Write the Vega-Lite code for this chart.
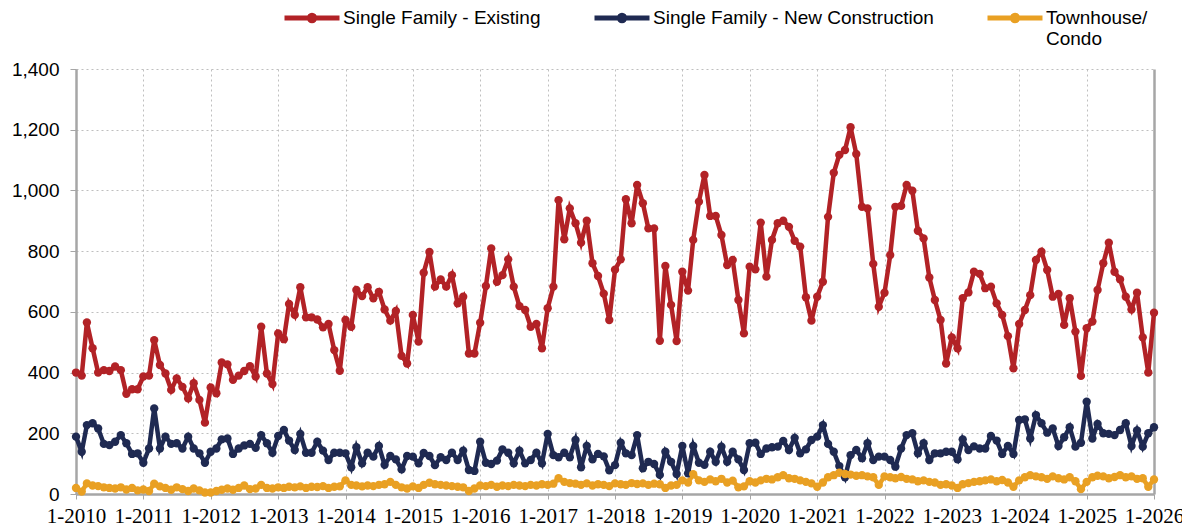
{
  "$schema": "https://vega.github.io/schema/vega-lite/v6.json",
  "width": 1078,
  "height": 425,
  "autosize": "none",
  "padding": {"left": 76, "top": 69, "right": 28, "bottom": 33},
  "background": "white",
  "config": {"view": {"stroke": null}, "font": "Liberation Sans"},
  "data": {"values": [
    {"month":"2010-01-01","existing":400,"newConstruction":189,"townhouse":20},
    {"month":"2010-02-01","existing":390,"newConstruction":139,"townhouse":8},
    {"month":"2010-03-01","existing":565,"newConstruction":227,"townhouse":35},
    {"month":"2010-04-01","existing":480,"newConstruction":233,"townhouse":28},
    {"month":"2010-05-01","existing":400,"newConstruction":216,"townhouse":26},
    {"month":"2010-06-01","existing":408,"newConstruction":165,"townhouse":22},
    {"month":"2010-07-01","existing":405,"newConstruction":161,"townhouse":20},
    {"month":"2010-08-01","existing":420,"newConstruction":172,"townhouse":18},
    {"month":"2010-09-01","existing":408,"newConstruction":194,"townhouse":22},
    {"month":"2010-10-01","existing":330,"newConstruction":167,"townhouse":15},
    {"month":"2010-11-01","existing":345,"newConstruction":132,"townhouse":20},
    {"month":"2010-12-01","existing":345,"newConstruction":134,"townhouse":12},
    {"month":"2011-01-01","existing":387,"newConstruction":103,"townhouse":15},
    {"month":"2011-02-01","existing":390,"newConstruction":150,"townhouse":10},
    {"month":"2011-03-01","existing":507,"newConstruction":282,"townhouse":34},
    {"month":"2011-04-01","existing":425,"newConstruction":150,"townhouse":25},
    {"month":"2011-05-01","existing":397,"newConstruction":189,"townhouse":20},
    {"month":"2011-06-01","existing":343,"newConstruction":165,"townhouse":14},
    {"month":"2011-07-01","existing":381,"newConstruction":167,"townhouse":22},
    {"month":"2011-08-01","existing":353,"newConstruction":150,"townhouse":16},
    {"month":"2011-09-01","existing":315,"newConstruction":189,"townhouse":10},
    {"month":"2011-10-01","existing":365,"newConstruction":150,"townhouse":18},
    {"month":"2011-11-01","existing":310,"newConstruction":134,"townhouse":12},
    {"month":"2011-12-01","existing":235,"newConstruction":103,"townhouse":5},
    {"month":"2012-01-01","existing":351,"newConstruction":139,"townhouse":5},
    {"month":"2012-02-01","existing":332,"newConstruction":150,"townhouse":10},
    {"month":"2012-03-01","existing":433,"newConstruction":180,"townhouse":14},
    {"month":"2012-04-01","existing":427,"newConstruction":183,"townhouse":18},
    {"month":"2012-05-01","existing":376,"newConstruction":132,"townhouse":14},
    {"month":"2012-06-01","existing":390,"newConstruction":150,"townhouse":20},
    {"month":"2012-07-01","existing":405,"newConstruction":160,"townhouse":28},
    {"month":"2012-08-01","existing":421,"newConstruction":165,"townhouse":16},
    {"month":"2012-09-01","existing":387,"newConstruction":152,"townhouse":18},
    {"month":"2012-10-01","existing":551,"newConstruction":194,"townhouse":30},
    {"month":"2012-11-01","existing":397,"newConstruction":167,"townhouse":20},
    {"month":"2012-12-01","existing":362,"newConstruction":136,"townhouse":18},
    {"month":"2013-01-01","existing":529,"newConstruction":191,"townhouse":22},
    {"month":"2013-02-01","existing":510,"newConstruction":211,"townhouse":20},
    {"month":"2013-03-01","existing":626,"newConstruction":176,"townhouse":24},
    {"month":"2013-04-01","existing":590,"newConstruction":145,"townhouse":22},
    {"month":"2013-05-01","existing":681,"newConstruction":198,"townhouse":25},
    {"month":"2013-06-01","existing":582,"newConstruction":136,"townhouse":20},
    {"month":"2013-07-01","existing":582,"newConstruction":136,"townhouse":24},
    {"month":"2013-08-01","existing":575,"newConstruction":172,"townhouse":23},
    {"month":"2013-09-01","existing":549,"newConstruction":143,"townhouse":26},
    {"month":"2013-10-01","existing":560,"newConstruction":112,"townhouse":20},
    {"month":"2013-11-01","existing":474,"newConstruction":136,"townhouse":24},
    {"month":"2013-12-01","existing":406,"newConstruction":136,"townhouse":25},
    {"month":"2014-01-01","existing":573,"newConstruction":134,"townhouse":45},
    {"month":"2014-02-01","existing":551,"newConstruction":88,"townhouse":30},
    {"month":"2014-03-01","existing":672,"newConstruction":154,"townhouse":28},
    {"month":"2014-04-01","existing":652,"newConstruction":101,"townhouse":25},
    {"month":"2014-05-01","existing":681,"newConstruction":136,"townhouse":28},
    {"month":"2014-06-01","existing":645,"newConstruction":123,"townhouse":26},
    {"month":"2014-07-01","existing":666,"newConstruction":158,"townhouse":30},
    {"month":"2014-08-01","existing":608,"newConstruction":96,"townhouse":32},
    {"month":"2014-09-01","existing":571,"newConstruction":125,"townhouse":40},
    {"month":"2014-10-01","existing":603,"newConstruction":114,"townhouse":30},
    {"month":"2014-11-01","existing":455,"newConstruction":81,"townhouse":22},
    {"month":"2014-12-01","existing":430,"newConstruction":125,"townhouse":18},
    {"month":"2015-01-01","existing":590,"newConstruction":123,"townhouse":25},
    {"month":"2015-02-01","existing":502,"newConstruction":101,"townhouse":20},
    {"month":"2015-03-01","existing":729,"newConstruction":135,"townhouse":30},
    {"month":"2015-04-01","existing":797,"newConstruction":125,"townhouse":37},
    {"month":"2015-05-01","existing":683,"newConstruction":95,"townhouse":32},
    {"month":"2015-06-01","existing":707,"newConstruction":121,"townhouse":30},
    {"month":"2015-07-01","existing":683,"newConstruction":112,"townhouse":28},
    {"month":"2015-08-01","existing":721,"newConstruction":136,"townhouse":26},
    {"month":"2015-09-01","existing":628,"newConstruction":112,"townhouse":24},
    {"month":"2015-10-01","existing":650,"newConstruction":143,"townhouse":22},
    {"month":"2015-11-01","existing":463,"newConstruction":79,"townhouse":10},
    {"month":"2015-12-01","existing":463,"newConstruction":76,"townhouse":18},
    {"month":"2016-01-01","existing":564,"newConstruction":172,"townhouse":28},
    {"month":"2016-02-01","existing":685,"newConstruction":103,"townhouse":26},
    {"month":"2016-03-01","existing":809,"newConstruction":99,"townhouse":30},
    {"month":"2016-04-01","existing":699,"newConstruction":110,"townhouse":24},
    {"month":"2016-05-01","existing":721,"newConstruction":147,"townhouse":28},
    {"month":"2016-06-01","existing":773,"newConstruction":136,"townhouse":26},
    {"month":"2016-07-01","existing":683,"newConstruction":101,"townhouse":30},
    {"month":"2016-08-01","existing":619,"newConstruction":143,"townhouse":28},
    {"month":"2016-09-01","existing":606,"newConstruction":101,"townhouse":26},
    {"month":"2016-10-01","existing":551,"newConstruction":112,"townhouse":30},
    {"month":"2016-11-01","existing":560,"newConstruction":136,"townhouse":28},
    {"month":"2016-12-01","existing":480,"newConstruction":101,"townhouse":32},
    {"month":"2017-01-01","existing":612,"newConstruction":198,"townhouse":30},
    {"month":"2017-02-01","existing":683,"newConstruction":128,"townhouse":34},
    {"month":"2017-03-01","existing":968,"newConstruction":121,"townhouse":52},
    {"month":"2017-04-01","existing":839,"newConstruction":136,"townhouse":40},
    {"month":"2017-05-01","existing":941,"newConstruction":121,"townhouse":36},
    {"month":"2017-06-01","existing":892,"newConstruction":178,"townhouse":34},
    {"month":"2017-07-01","existing":828,"newConstruction":88,"townhouse":30},
    {"month":"2017-08-01","existing":900,"newConstruction":158,"townhouse":35},
    {"month":"2017-09-01","existing":760,"newConstruction":114,"townhouse":28},
    {"month":"2017-10-01","existing":718,"newConstruction":132,"townhouse":32},
    {"month":"2017-11-01","existing":660,"newConstruction":124,"townhouse":30},
    {"month":"2017-12-01","existing":573,"newConstruction":78,"townhouse":26},
    {"month":"2018-01-01","existing":739,"newConstruction":95,"townhouse":35},
    {"month":"2018-02-01","existing":773,"newConstruction":169,"townhouse":32},
    {"month":"2018-03-01","existing":971,"newConstruction":134,"townhouse":30},
    {"month":"2018-04-01","existing":892,"newConstruction":128,"townhouse":36},
    {"month":"2018-05-01","existing":1018,"newConstruction":194,"townhouse":33},
    {"month":"2018-06-01","existing":958,"newConstruction":85,"townhouse":35},
    {"month":"2018-07-01","existing":875,"newConstruction":106,"townhouse":30},
    {"month":"2018-08-01","existing":875,"newConstruction":99,"townhouse":34},
    {"month":"2018-09-01","existing":505,"newConstruction":63,"townhouse":32},
    {"month":"2018-10-01","existing":751,"newConstruction":139,"townhouse":20},
    {"month":"2018-11-01","existing":623,"newConstruction":106,"townhouse":28},
    {"month":"2018-12-01","existing":504,"newConstruction":66,"townhouse":30},
    {"month":"2019-01-01","existing":732,"newConstruction":158,"townhouse":45},
    {"month":"2019-02-01","existing":670,"newConstruction":68,"townhouse":38},
    {"month":"2019-03-01","existing":837,"newConstruction":158,"townhouse":65},
    {"month":"2019-04-01","existing":963,"newConstruction":103,"townhouse":45},
    {"month":"2019-05-01","existing":1051,"newConstruction":96,"townhouse":40},
    {"month":"2019-06-01","existing":916,"newConstruction":139,"townhouse":48},
    {"month":"2019-07-01","existing":916,"newConstruction":106,"townhouse":42},
    {"month":"2019-08-01","existing":853,"newConstruction":156,"townhouse":50},
    {"month":"2019-09-01","existing":754,"newConstruction":106,"townhouse":38},
    {"month":"2019-10-01","existing":771,"newConstruction":139,"townhouse":44},
    {"month":"2019-11-01","existing":639,"newConstruction":114,"townhouse":22},
    {"month":"2019-12-01","existing":529,"newConstruction":79,"townhouse":25},
    {"month":"2020-01-01","existing":749,"newConstruction":167,"townhouse":42},
    {"month":"2020-02-01","existing":740,"newConstruction":169,"townhouse":38},
    {"month":"2020-03-01","existing":894,"newConstruction":132,"townhouse":45},
    {"month":"2020-04-01","existing":716,"newConstruction":150,"townhouse":50},
    {"month":"2020-05-01","existing":837,"newConstruction":154,"townhouse":48},
    {"month":"2020-06-01","existing":892,"newConstruction":156,"townhouse":55},
    {"month":"2020-07-01","existing":900,"newConstruction":175,"townhouse":62},
    {"month":"2020-08-01","existing":880,"newConstruction":145,"townhouse":52},
    {"month":"2020-09-01","existing":834,"newConstruction":185,"townhouse":50},
    {"month":"2020-10-01","existing":815,"newConstruction":134,"townhouse":45},
    {"month":"2020-11-01","existing":648,"newConstruction":147,"townhouse":40},
    {"month":"2020-12-01","existing":571,"newConstruction":178,"townhouse":35},
    {"month":"2021-01-01","existing":650,"newConstruction":189,"townhouse":24},
    {"month":"2021-02-01","existing":699,"newConstruction":227,"townhouse":38},
    {"month":"2021-03-01","existing":913,"newConstruction":165,"townhouse":55},
    {"month":"2021-04-01","existing":1058,"newConstruction":139,"townhouse":62},
    {"month":"2021-05-01","existing":1117,"newConstruction":92,"townhouse":70},
    {"month":"2021-06-01","existing":1133,"newConstruction":55,"townhouse":66},
    {"month":"2021-07-01","existing":1208,"newConstruction":128,"townhouse":64},
    {"month":"2021-08-01","existing":1120,"newConstruction":145,"townhouse":60},
    {"month":"2021-09-01","existing":946,"newConstruction":118,"townhouse":62},
    {"month":"2021-10-01","existing":941,"newConstruction":167,"townhouse":58},
    {"month":"2021-11-01","existing":758,"newConstruction":112,"townhouse":55},
    {"month":"2021-12-01","existing":617,"newConstruction":123,"townhouse":30},
    {"month":"2022-01-01","existing":663,"newConstruction":123,"townhouse":58},
    {"month":"2022-02-01","existing":787,"newConstruction":112,"townhouse":55},
    {"month":"2022-03-01","existing":946,"newConstruction":90,"townhouse":52},
    {"month":"2022-04-01","existing":949,"newConstruction":150,"townhouse":56},
    {"month":"2022-05-01","existing":1018,"newConstruction":194,"townhouse":50},
    {"month":"2022-06-01","existing":999,"newConstruction":200,"townhouse":48},
    {"month":"2022-07-01","existing":867,"newConstruction":134,"townhouse":42},
    {"month":"2022-08-01","existing":842,"newConstruction":167,"townhouse":45},
    {"month":"2022-09-01","existing":713,"newConstruction":112,"townhouse":40},
    {"month":"2022-10-01","existing":639,"newConstruction":134,"townhouse":38},
    {"month":"2022-11-01","existing":573,"newConstruction":134,"townhouse":30},
    {"month":"2022-12-01","existing":430,"newConstruction":139,"townhouse":32},
    {"month":"2023-01-01","existing":516,"newConstruction":139,"townhouse":28},
    {"month":"2023-02-01","existing":480,"newConstruction":114,"townhouse":20},
    {"month":"2023-03-01","existing":645,"newConstruction":180,"townhouse":32},
    {"month":"2023-04-01","existing":664,"newConstruction":145,"townhouse":36},
    {"month":"2023-05-01","existing":732,"newConstruction":157,"townhouse":40},
    {"month":"2023-06-01","existing":725,"newConstruction":150,"townhouse":42},
    {"month":"2023-07-01","existing":678,"newConstruction":150,"townhouse":45},
    {"month":"2023-08-01","existing":683,"newConstruction":191,"townhouse":48},
    {"month":"2023-09-01","existing":628,"newConstruction":176,"townhouse":42},
    {"month":"2023-10-01","existing":590,"newConstruction":132,"townhouse":46},
    {"month":"2023-11-01","existing":520,"newConstruction":158,"townhouse":38},
    {"month":"2023-12-01","existing":414,"newConstruction":132,"townhouse":24},
    {"month":"2024-01-01","existing":560,"newConstruction":244,"townhouse":45},
    {"month":"2024-02-01","existing":606,"newConstruction":246,"townhouse":55},
    {"month":"2024-03-01","existing":655,"newConstruction":183,"townhouse":62},
    {"month":"2024-04-01","existing":771,"newConstruction":260,"townhouse":58},
    {"month":"2024-05-01","existing":798,"newConstruction":233,"townhouse":55},
    {"month":"2024-06-01","existing":738,"newConstruction":202,"townhouse":50},
    {"month":"2024-07-01","existing":650,"newConstruction":216,"townhouse":58},
    {"month":"2024-08-01","existing":659,"newConstruction":158,"townhouse":52},
    {"month":"2024-09-01","existing":557,"newConstruction":187,"townhouse":48},
    {"month":"2024-10-01","existing":645,"newConstruction":220,"townhouse":55},
    {"month":"2024-11-01","existing":535,"newConstruction":156,"townhouse":42},
    {"month":"2024-12-01","existing":389,"newConstruction":169,"townhouse":16},
    {"month":"2025-01-01","existing":546,"newConstruction":304,"townhouse":40},
    {"month":"2025-02-01","existing":568,"newConstruction":183,"townhouse":55},
    {"month":"2025-03-01","existing":672,"newConstruction":231,"townhouse":60},
    {"month":"2025-04-01","existing":760,"newConstruction":200,"townhouse":58},
    {"month":"2025-05-01","existing":828,"newConstruction":198,"townhouse":52},
    {"month":"2025-06-01","existing":732,"newConstruction":194,"townhouse":56},
    {"month":"2025-07-01","existing":707,"newConstruction":211,"townhouse":62},
    {"month":"2025-08-01","existing":650,"newConstruction":233,"townhouse":55},
    {"month":"2025-09-01","existing":608,"newConstruction":158,"townhouse":58},
    {"month":"2025-10-01","existing":663,"newConstruction":209,"townhouse":50},
    {"month":"2025-11-01","existing":516,"newConstruction":156,"townhouse":52},
    {"month":"2025-12-01","existing":400,"newConstruction":200,"townhouse":24},
    {"month":"2026-01-01","existing":597,"newConstruction":220,"townhouse":48}
  ]},
  "transform": [{"fold": ["existing", "newConstruction", "townhouse"], "as": ["series", "value"]}],
  "mark": {"type": "line", "strokeWidth": 4.5, "point": {"filled": true, "size": 70}},
  "encoding": {
    "x": {
      "field": "month", "type": "temporal",
      "scale": {"type": "utc", "domain": ["2010-01-01", "2026-01-01"]},
      "axis": {
        "title": null, "format": "%-m-%Y", "tickCount": {"interval": "year", "step": 1},
        "grid": true,
        "gridColor": {"condition": {"test": "utcyear(datum.value) >= 2026", "value": "#A6A6A6"}, "value": "#BFBFBF"},
        "gridDash": {"condition": {"test": "utcyear(datum.value) >= 2026", "value": [1, 0]}, "value": [2, 3]},
        "gridWidth": {"condition": {"test": "utcyear(datum.value) >= 2026", "value": 2.5}, "value": 1},
        "domainColor": "#A6A6A6", "domainWidth": 2.5, "tickColor": "#A6A6A6", "tickSize": 5, "tickWidth": 1,
        "labelFont": "Liberation Sans Narrow", "labelFontSize": 21, "labelColor": "#000000", "labelPadding": 6,
        "labelFlush": false, "labelOverlap": false
      }
    },
    "y": {
      "field": "value", "type": "quantitative",
      "scale": {"domain": [0, 1400], "nice": false},
      "axis": {
        "title": null, "values": [0, 200, 400, 600, 800, 1000, 1200, 1400], "format": ",d",
        "grid": true, "gridDash": [2, 3], "gridColor": "#BFBFBF", "gridWidth": 1,
        "domainColor": "#A6A6A6", "domainWidth": 2.5, "tickColor": "#A6A6A6", "tickSize": 6, "tickWidth": 1,
        "labelFont": "Liberation Sans", "labelFontSize": 19, "labelColor": "#000000", "labelPadding": 11
      }
    },
    "color": {
      "field": "series", "type": "nominal",
      "scale": {"domain": ["existing", "newConstruction", "townhouse"], "range": ["#B22226", "#1F2A52", "#E9A023"]},
      "legend": {
        "title": null, "orient": "none", "direction": "horizontal", "legendX": 206, "legendY": -81,
        "symbolType": "M-1,0H1M-0.1,0A0.1,0.1 0 1,0 0.1,0A0.1,0.1 0 1,0 -0.1,0",
        "symbolSize": 3025, "symbolStrokeWidth": 5,
        "labelFont": "Liberation Sans", "labelFontSize": 19, "labelColor": "#000000", "labelOffset": 1, "labelLimit": 400,
        "columnPadding": 43,
        "labelExpr": "datum.value == 'existing' ? ['Single Family - Existing', ' '] : datum.value == 'newConstruction' ? ['Single Family - New Construction', ' '] : ['Townhouse/', 'Condo']",
        "encode": {"symbols": {"update": {"fill": {"scale": "color", "field": "value"}, "stroke": {"scale": "color", "field": "value"}}}}
      }
    }
  }
}
